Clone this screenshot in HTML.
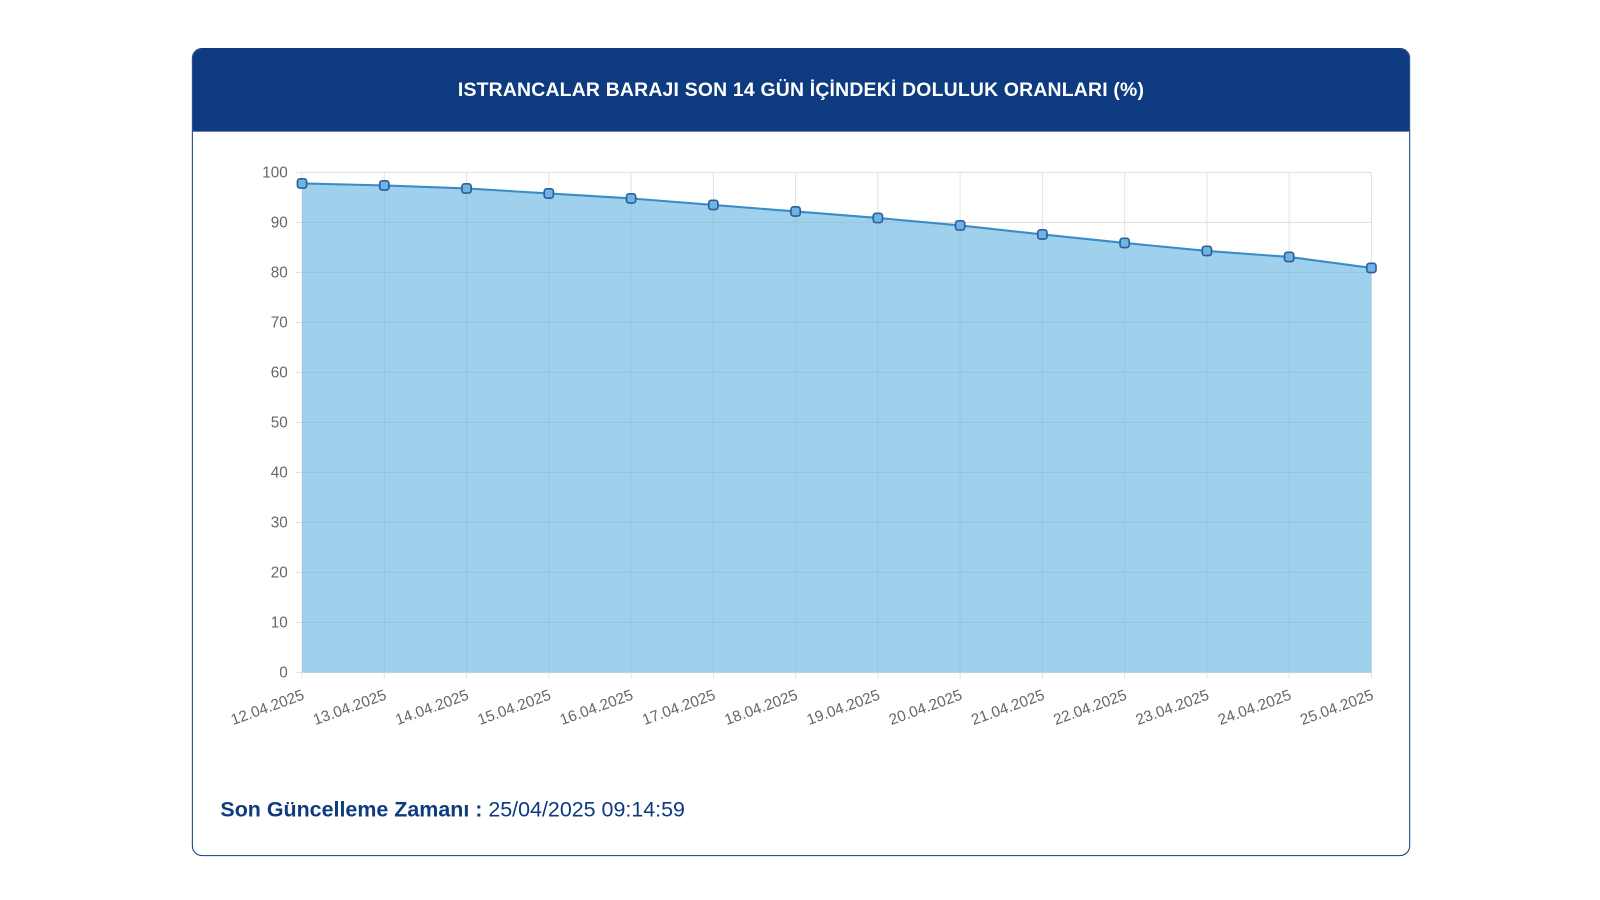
<!DOCTYPE html>
<html><head><meta charset="utf-8"><style>
body{margin:0;width:1600px;height:900px;background:#fff;font-family:"Liberation Sans",sans-serif;overflow:hidden;position:relative}
#wrap{position:absolute;left:0;top:0;width:1568px;height:882px;transform:scale(1.0204);transform-origin:0 0}
.card{position:absolute;left:188px;top:47px;width:1192px;height:790px;border:1.5px solid #0e3a80;border-radius:10px;overflow:hidden;background:#fff}
.hdr{height:81px;background:#0e3a80;color:#fff;font-weight:bold;font-size:19px;text-align:center;line-height:82px;letter-spacing:0.2px}
.foot{position:absolute;left:216px;top:782px;font-size:21px;color:#0e3a80}
</style></head><body>
<div id="wrap">
<div class="card">
<div class="hdr">ISTRANCALAR BARAJI SON 14 GÜN İÇİNDEKİ DOLULUK ORANLARI (%)</div>
</div>
<svg id="chart" style="position:absolute;left:0;top:0" width="1568" height="882"></svg>
<div class="foot"><b>Son Güncelleme Zamanı :</b> 25/04/2025 09:14:59</div>
</div>
<script>
const categories=["12.04.2025","13.04.2025","14.04.2025","15.04.2025","16.04.2025","17.04.2025","18.04.2025","19.04.2025","20.04.2025","21.04.2025","22.04.2025","23.04.2025","24.04.2025","25.04.2025"];
const values=[97.8,97.4,96.8,95.8,94.8,93.5,92.2,90.9,89.4,87.6,85.9,84.3,83.1,80.9];
const yTicks=[0,10,20,30,40,50,60,70,80,90,100];
const svg=document.getElementById('chart');const NS='http://www.w3.org/2000/svg';
const X0=296,X1=1344,Y0=659,Y1=169;
const xs=i=>X0+(X1-X0)*i/(categories.length-1);
const ys=v=>Y0-(Y0-Y1)*v/100;
function mk(t,a){const e=document.createElementNS(NS,t);for(const k in a)e.setAttribute(k,a[k]);svg.appendChild(e);return e;}
yTicks.forEach(t=>{
const l=mk('line',{x1:X0-6,x2:X1,y1:ys(t),y2:ys(t),stroke:'#e2e2e2','stroke-width':1});


const tx=mk('text',{x:X0-14,y:ys(t)+5,'text-anchor':'end','font-size':15,fill:'#666','font-family':'Liberation Sans, sans-serif'});tx.textContent=t;


});
categories.forEach((c,i)=>{
const l=mk('line',{x1:xs(i),x2:xs(i),y1:Y1,y2:Y0+6,stroke:'#e2e2e2','stroke-width':1});


const tx=mk('text',{x:xs(i)+3,y:Y0+26,'text-anchor':'end','font-size':15,fill:'#666','font-family':'Liberation Sans, sans-serif',transform:`rotate(-20 ${xs(i)+3} ${Y0+26})`});tx.textContent=c;


});
let d='M'+xs(0)+','+Y0;values.forEach((v,i)=>d+=' L'+xs(i)+','+ys(v));d+=' L'+xs(values.length-1)+','+Y0+'Z';
const area=mk('path',{d:d,fill:'rgba(100,180,225,0.62)'});


let ld='';values.forEach((v,i)=>ld+=(i?' L':'M')+xs(i)+','+ys(v));
const line=mk('path',{d:ld,fill:'none',stroke:'#3a8cc8','stroke-width':2});


values.forEach((v,i)=>{
const p=mk('rect',{x:xs(i)-4.5,y:ys(v)-4.5,width:9,height:9,rx:2.5,fill:'#6fb4e2',stroke:'#2a5f99','stroke-width':1.6});


});
</script>
</body></html>
